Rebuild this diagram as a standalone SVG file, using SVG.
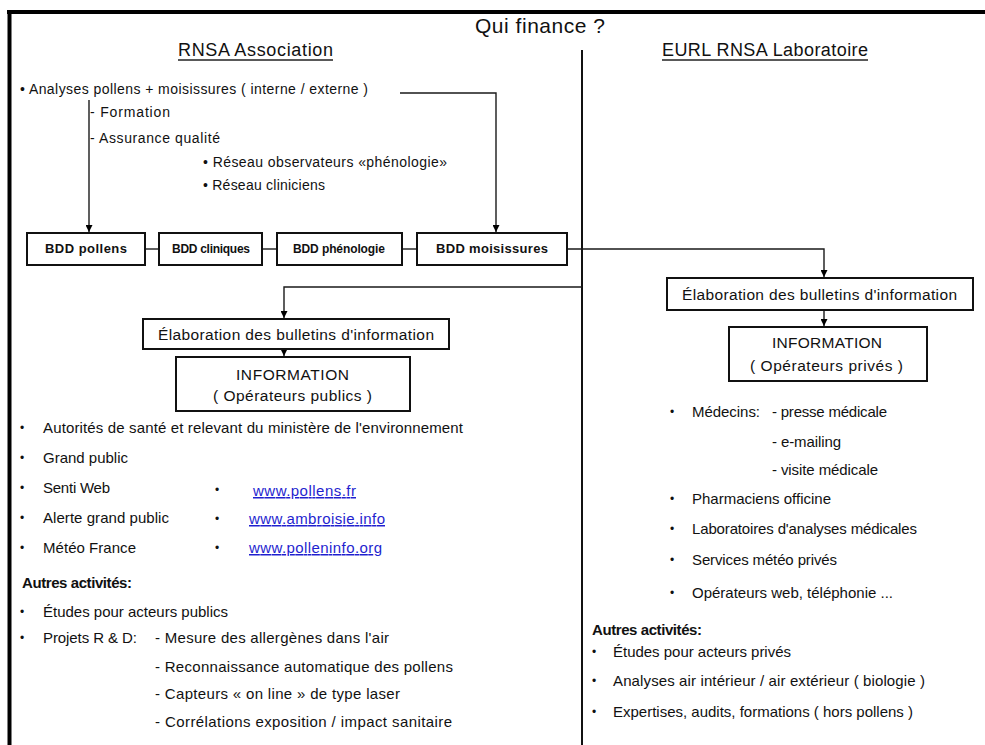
<svg xmlns="http://www.w3.org/2000/svg" width="985" height="745" viewBox="0 0 985 745">
<style>
  text { font-family: "Liberation Sans", Arial, sans-serif; fill: #111; }
  .h { font-size: 18px; }
  .t { font-size: 14px; }
  .l { font-size: 15px; }
  .bu { font-size: 12px; }
  .b { font-weight: bold; }
  .bdd { font-size: 13px; font-weight: bold; }
  .bdds { font-size: 12px; font-weight: bold; }
  .ar { font-size: 15.5px; }
  .link { fill: #1f1fcf; text-decoration: underline; }
  .box { fill: #fff; stroke: #111; stroke-width: 2; }
  .con { fill: none; stroke: #1a1a1a; stroke-width: 1.4; }
  .frame { fill: none; stroke: #000; stroke-width: 4; }
  .ul { stroke: #222; stroke-width: 1.4; }
</style>
<defs>
  <marker id="ah" viewBox="0 0 8 8" refX="8" refY="4" markerWidth="7" markerHeight="7" markerUnits="userSpaceOnUse" orient="auto">
    <path d="M0,0 L8,4 L0,8 z" fill="#000"/>
  </marker>
</defs>
<rect width="985" height="745" fill="#fff"/>

<g id="frame">
  <path class="frame" d="M7,12 H985"/>
  <path class="frame" d="M9.5,12 V745"/>
  <path d="M582,50 V745" stroke="#111" stroke-width="2" fill="none"/>
</g>

<g id="titles">
  <text x="475" y="33" style="font-size:21px" textLength="130">Qui finance ?</text>
  <text class="h" x="178" y="56" textLength="155">RNSA Association</text>
  <line class="ul" x1="178" y1="60" x2="333" y2="60"/>
  <text class="h" x="662" y="56" textLength="206">EURL RNSA Laboratoire</text>
  <line class="ul" x1="662" y1="60" x2="868" y2="60"/>
</g>

<g id="analyses">
  <text class="t" x="20" y="94" textLength="348">• Analyses pollens + moisissures ( interne / externe )</text>
  <text class="t" x="90" y="117" textLength="80">- Formation</text>
  <text class="t" x="90" y="143" textLength="130">- Assurance qualité</text>
  <text class="t" x="203" y="167" textLength="244">• Réseau observateurs «phénologie»</text>
  <text class="t" x="203" y="190" textLength="122">• Réseau cliniciens</text>
</g>

<g id="connectors">
  <path class="con" d="M89,100 V232" marker-end="url(#ah)"/>
  <path class="con" d="M400,93 H496 V232" marker-end="url(#ah)"/>
  <path class="con" d="M145,249 H159"/>
  <path class="con" d="M262,249 H277"/>
  <path class="con" d="M402,249 H417"/>
  <path class="con" d="M567,249 H824 V277" marker-end="url(#ah)"/>
  <path class="con" d="M582,287 H284 V318" marker-end="url(#ah)"/>
  <path class="con" d="M284,349 V356" marker-end="url(#ah)"/>
  <path class="con" d="M824,310 V326" marker-end="url(#ah)"/>
</g>

<g id="bdd-pollens">
  <rect class="box" x="27" y="233" width="118" height="32"/>
  <text class="bdd" x="45" y="253" textLength="82">BDD pollens</text>
</g>
<g id="bdd-cliniques">
  <rect class="box" x="159" y="233" width="103" height="32"/>
  <text class="bdds" x="172" y="253" textLength="78">BDD cliniques</text>
</g>
<g id="bdd-phenologie">
  <rect class="box" x="277" y="233" width="125" height="32"/>
  <text class="bdds" x="293" y="253" textLength="92">BDD phénologie</text>
</g>
<g id="bdd-moisissures">
  <rect class="box" x="417" y="233" width="150" height="32"/>
  <text class="bdd" x="436" y="253" textLength="112">BDD moisissures</text>
</g>

<g id="elab-public">
  <rect class="box" x="143" y="319" width="306" height="30"/>
  <text class="ar" x="158" y="340" textLength="276">Élaboration des bulletins d'information</text>
</g>
<g id="info-public">
  <rect class="box" x="176" y="357" width="234" height="54"/>
  <text class="ar" x="236" y="380" textLength="113">INFORMATION</text>
  <text class="ar" x="213" y="401" textLength="159">( Opérateurs publics )</text>
</g>

<g id="elab-prive">
  <rect class="box" x="667" y="278" width="306" height="32"/>
  <text class="ar" x="682" y="300" textLength="275">Élaboration des bulletins d'information</text>
</g>
<g id="info-prive">
  <rect class="box" x="729" y="327" width="198" height="54"/>
  <text class="ar" x="772" y="348" textLength="110">INFORMATION</text>
  <text class="ar" x="750" y="371" textLength="153">( Opérateurs privés )</text>
</g>

<g id="liste-public">
  <text class="bu" x="20" y="432">•</text>
  <text class="l" x="43" y="433" textLength="420">Autorités de santé et relevant du ministère de l'environnement</text>
  <text class="bu" x="20" y="462">•</text>
  <text class="l" x="43" y="463" textLength="85">Grand public</text>
  <text class="bu" x="20" y="492">•</text>
  <text class="l" x="43" y="493" textLength="67">Senti Web</text>
  <text class="bu" x="20" y="522">•</text>
  <text class="l" x="43" y="523" textLength="126">Alerte grand public</text>
  <text class="bu" x="20" y="552">•</text>
  <text class="l" x="43" y="553" textLength="93">Météo France</text>
  <text class="bu" x="215" y="494">•</text>
  <text class="l link" x="253" y="496" textLength="103">www.pollens.fr</text>
  <text class="bu" x="215" y="523">•</text>
  <text class="l link" x="249" y="524" textLength="136">www.ambroisie.info</text>
  <text class="bu" x="215" y="552">•</text>
  <text class="l link" x="249" y="553" textLength="133">www.polleninfo.org</text>
  <text class="l b" x="22" y="588" textLength="110">Autres activités:</text>
  <text class="bu" x="20" y="616">•</text>
  <text class="l" x="43" y="617" textLength="185">Études pour acteurs publics</text>
  <text class="bu" x="20" y="642">•</text>
  <text class="l" x="43" y="643" textLength="94">Projets R &amp; D:</text>
  <text class="l" x="155" y="643" textLength="234">- Mesure des allergènes dans l'air</text>
  <text class="l" x="155" y="672" textLength="298">- Reconnaissance automatique des pollens</text>
  <text class="l" x="155" y="699" textLength="245">- Capteurs « on line » de type laser</text>
  <text class="l" x="155" y="727" textLength="297">- Corrélations exposition / impact sanitaire</text>
</g>

<g id="liste-prive">
  <text class="bu" x="670" y="416">•</text>
  <text class="l" x="692" y="417" textLength="68">Médecins:</text>
  <text class="l" x="772" y="417" textLength="115">- presse médicale</text>
  <text class="l" x="772" y="447" textLength="69">- e-mailing</text>
  <text class="l" x="772" y="475" textLength="106">- visite médicale</text>
  <text class="bu" x="670" y="503">•</text>
  <text class="l" x="692" y="504" textLength="139">Pharmaciens officine</text>
  <text class="bu" x="670" y="533">•</text>
  <text class="l" x="692" y="534" textLength="225">Laboratoires d'analyses médicales</text>
  <text class="bu" x="670" y="564">•</text>
  <text class="l" x="692" y="565" textLength="145">Services météo privés</text>
  <text class="bu" x="670" y="597">•</text>
  <text class="l" x="692" y="598" textLength="201">Opérateurs web, téléphonie ...</text>
  <text class="l b" x="592" y="635" textLength="110">Autres activités:</text>
  <text class="bu" x="592" y="656">•</text>
  <text class="l" x="613" y="657" textLength="178">Études pour acteurs privés</text>
  <text class="bu" x="592" y="685">•</text>
  <text class="l" x="613" y="686" textLength="312">Analyses air intérieur / air extérieur ( biologie )</text>
  <text class="bu" x="592" y="716">•</text>
  <text class="l" x="613" y="717" textLength="300">Expertises, audits, formations ( hors pollens )</text>
</g>
</svg>
